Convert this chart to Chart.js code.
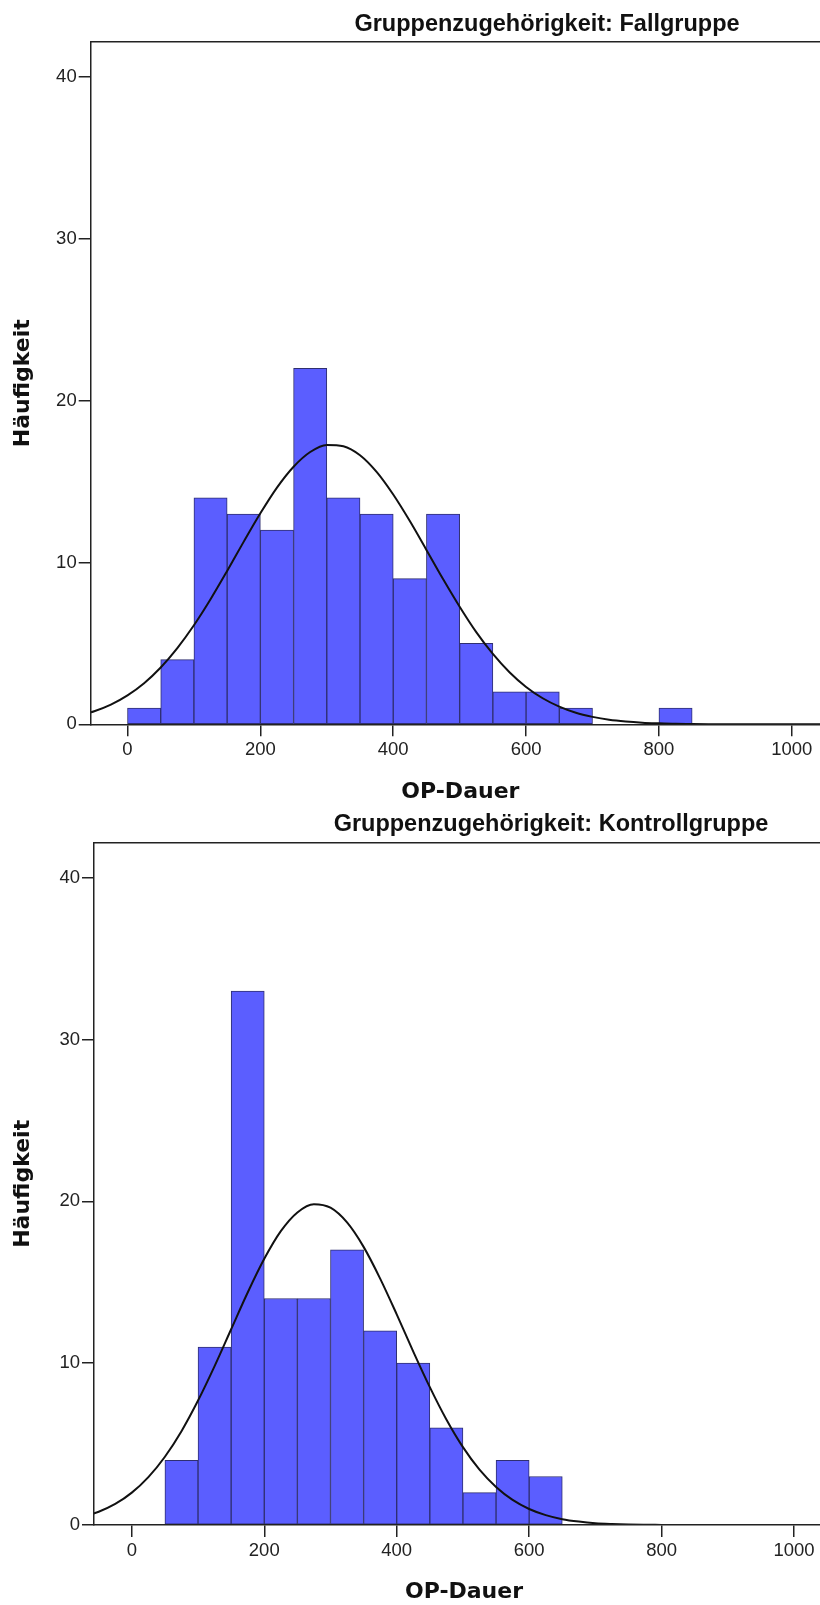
<!DOCTYPE html>
<html>
<head>
<meta charset="UTF-8">
<title>OP-Dauer nach Gruppe</title>
<script src="https://cdn.jsdelivr.net/npm/chart.js"></script>

<script>
// Achsen-Ticks
const xTicks = [0, 200, 400, 600, 800, 1000];
const yTicks = [0, 10, 20, 30, 40];

const groups = ['Fallgruppe', 'Kontrollgruppe'];

// Histogramm: Klassenmitte (Breite 50) und Häufigkeit
const fallMid = [25, 75, 125, 175, 225, 275, 325, 375, 425, 475, 525, 575, 625, 675, 725, 775, 825];
const fallN   = [1, 4, 14, 13, 12, 22, 14, 13, 9, 13, 5, 2, 2, 1, 0, 0, 1];

const kontrMid = [75, 125, 175, 225, 275, 325, 375, 425, 475, 525, 575, 625];
const kontrN   = [4, 11, 33, 14, 14, 17, 12, 10, 6, 2, 4, 3];

// Normalverteilungskurve
const curveX = [-75, -50, -25, 0, 25, 50, 75, 100, 125, 150, 175, 200, 225, 250, 275, 300, 325, 350, 375, 400,
  425, 450, 475, 500, 525, 550, 575, 600, 625, 650, 675, 700, 725, 750, 775, 800, 825, 850, 875, 900, 950, 1000, 1050, 1075];
const fallCurve = [0.52, 0.81, 1.22, 1.79, 2.54, 3.51, 4.71, 6.12, 7.73, 9.48, 11.29, 13.04, 14.63, 15.92, 16.83, 17.27, 17.19, 16.63, 15.60, 14.20,
  12.56, 10.78, 8.98, 7.27, 5.70, 4.35, 3.22, 2.31, 1.61, 1.09, 0.71, 0.46, 0.28, 0.17, 0.10, 0.06, 0.03, 0.02, 0.01, 0, 0, 0, 0, 0];
const kontrCurve = [0.50, 0.82, 1.30, 2.00, 2.96, 4.22, 5.80, 7.69, 9.82, 12.10, 14.37, 16.45, 18.16, 19.32, 19.83, 19.61, 18.70, 17.19, 15.23, 13.02,
  10.72, 8.52, 6.52, 4.81, 3.42, 2.35, 1.55, 0.99, 0.61, 0.36, 0.21, 0.11, 0.06, 0.03, 0.015, 0.007, 0, 0, 0, 0, 0, 0, 0, 0];

function pts(xs, ys) {
	return xs.map(function(x, i){ return {x: x, y: ys[i]}; });
}

const frame = '#222';
const tickFont = {family: '"Liberation Sans", Arial, sans-serif', size: 18.5};
const axTitleFont = {family: '"DejaVu Sans", sans-serif', size: 22, weight: 'bold'};
const plain = function(v){ return String(v); }; // kein Tausenderpunkt

function panel(id, mids, counts, curve, lay) {
	new Chart(document.getElementById(id), {
		type: 'bar',
		data: {
			datasets: [{
				type: 'line',
				data: pts(curveX, curve),
				borderColor: '#111',
				borderWidth: 2,
				pointRadius: 0,
				fill: false,
				cubicInterpolationMode: 'monotone',
				order: 0
			}, {
				data: pts(mids, counts),
				backgroundColor: '#5b5eff',
				borderColor: '#2f2f70',
				borderWidth: 1,
				borderSkipped: false,
				barPercentage: 1,
				categoryPercentage: 1,
				order: 1
			}]
		},
		options: {
			responsive: false,
			animation: false,
			devicePixelRatio: 1,
			layout: { padding: {top: lay.top, left: 0, right: 0, bottom: 0} },
			plugins: { legend: {display: false}, tooltip: {enabled: false} },
			scales: {
				x: {
					type: 'linear', position: 'bottom',
					min: lay.xmin, max: lay.xmax, offset: false,
					afterBuildTicks: function(s){ s.ticks = xTicks.map(function(v){ return {value: v}; }); },
					grid: {display: true, drawOnChartArea: false, drawTicks: true, tickLength: 12, color: frame, lineWidth: 1.5, offset: false},
					border: {display: true, color: frame, width: 1.5, z: 1},
					ticks: {autoSkip: false, maxRotation: 0, padding: 2.6, color: '#222', font: tickFont, callback: plain},
					title: {display: true, text: 'OP-Dauer', color: '#111', font: axTitleFont, padding: {top: lay.tp, bottom: 4.4}}
				},
				x2: {
					type: 'linear', position: 'top',
					grid: {display: false},
					ticks: {display: false},
					border: {display: true, color: frame, width: 1.5, z: 1},
					afterFit: function(s){ s.height = 0; }
				},
				y: {
					min: 0, max: 42.17,
					afterBuildTicks: function(s){ s.ticks = yTicks.map(function(v){ return {value: v}; }); },
					afterFit: function(s){ s.width = lay.left; },
					grid: {display: true, drawOnChartArea: false, drawTicks: true, tickLength: 12, color: frame, lineWidth: 1.5},
					border: {display: true, color: frame, width: 1.5, z: 1},
					ticks: {autoSkip: false, padding: 2, color: '#222', font: tickFont, callback: plain},
					title: {display: true, text: 'Häufigkeit', color: '#111', font: axTitleFont, padding: {top: 9.8, bottom: 0}}
				}
			}
		}
	});
}

window.addEventListener('load', function(){
	document.getElementById('t1').textContent = 'Gruppenzugehörigkeit: ' + groups[0];
	document.getElementById('t2').textContent = 'Gruppenzugehörigkeit: ' + groups[1];
	panel('c1', fallMid, fallN, fallCurve, {top: 42, left: 90.7, xmin: -55.4, xmax: 1057.5, tp: 15.5});
	panel('c2', kontrMid, kontrN, kontrCurve, {top: 42.7, left: 94, xmin: -57.1, xmax: 1060.3, tp: 14.8});
});
</script>
<style>
html, body { margin: 0; padding: 0; background: #fff; overflow: hidden; }
#wrap { position: relative; width: 820px; height: 1605px; overflow: hidden; }
canvas { position: absolute; left: 0; }
.ttl { position: absolute; z-index: 2; transform: translateX(-50%); white-space: nowrap;
       font: bold 23.5px "Liberation Sans", Arial, sans-serif; line-height: 1; color: #111; }
</style>
</head>
<body>
<div id="wrap">
	<canvas id="c1" width="830" height="810" style="top:0"></canvas>
	<canvas id="c2" width="834" height="810" style="top:800px"></canvas>
	<div class="ttl" id="t1" style="left:547px; top:11.6px;"></div>
	<div class="ttl" id="t2" style="left:551px; top:811.6px;"></div>
</div>
</body>
</html>
